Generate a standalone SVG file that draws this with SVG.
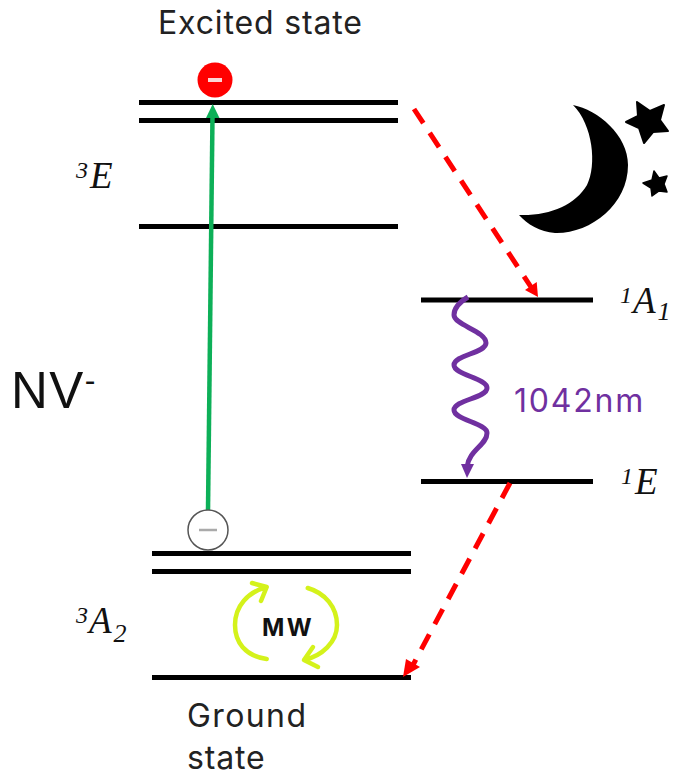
<svg xmlns="http://www.w3.org/2000/svg" width="674" height="777" viewBox="0 0 674 777">
<style>
.lvl{stroke:#000;stroke-width:5;fill:none}
.ui{font-family:"Inter","Noto Sans","Liberation Sans",sans-serif;font-size:32px;letter-spacing:.85px}
.sym{font-family:"Liberation Serif",serif;font-style:italic;font-size:37px;fill:#111}
.sup{font-size:24px}
.sub{font-size:26px}
.red{stroke:#ff0000;stroke-width:5;stroke-dasharray:17 11.600;fill:none}
.mw{stroke:#d4f21b;stroke-width:4.500;fill:none;stroke-linecap:round;stroke-linejoin:round}
</style>
<rect width="674" height="777" fill="#fff"/>
<g id="levels">
<path class="lvl" d="M139 102.500H398M139 120.500H398M139 226.500H398M421 300H593M421 481.500H593M152 553.500H411M152 571.500H411M152 677.500H411"/>
</g>
<g id="connectors">
<path d="M212.500 116L208 510" stroke="#0db058" stroke-width="4.500" fill="none"/>
<path d="M212.700 104L219.500 118H206Z" fill="#0db058"/>
<path class="red" d="M414 109L531 287"/>
<path d="M538 297L525 290L536.700 282Z" fill="#ff0000"/>
<path class="red" d="M510 483L413 665"/>
<path d="M403 677L406 659L420 667Z" fill="#ff0000"/>
<path d="M468 297C458 303 454 309 454 315C454 325 486 331 486 343C486 353 454 355 454 365C454 375 487 378 487 388C487 398 454 400 454 410C454 420 487 423 487 433C487 445 469 450 467 467" stroke="#7030a0" stroke-width="5" fill="none"/>
<path d="M467 478L461 464H474Z" fill="#7030a0"/>
<path class="mw" d="M266.700 659C245 656 235 642 235 625C235 606 248 592 266.700 587M252 583L266.700 587L261 601"/>
<path class="mw" d="M307.700 588C325 593 337 607 337 625C337 642 322 656 304 660M313 647L304 660L318 667"/>
</g>
<g id="excited-state"><text class="ui" x="158" y="34" fill="#222">Excited state</text></g>
<g id="electron-excited">
<circle cx="215" cy="80" r="17.500" fill="#ff0000"/>
<path d="M208 80H222" stroke="#fbd5d5" stroke-width="4"/>
</g>
<g id="electron-ground">
<circle cx="208" cy="530" r="20" fill="#fff" stroke="#555" stroke-width="1.500"/>
<path d="M199 530H217" stroke="#aaa" stroke-width="2.500"/>
</g>
<g id="moon">
<path d="M573 105C598 110 628 135 628 165C628 205 590 234 555 233C540 232 527 224 519 215C550 216 575 205 587 185C597 165 593 125 573 105Z" fill="#000"/>
<path d="M637 102L650 111L664 105L660 120L668 131L653 132L644 143L639 128L626 122L638 116Z" fill="#000" stroke="#000" stroke-width="2" stroke-linejoin="round"/>
<path d="M654 171L659 178L667 176L664 184L667 192L659 191L652 196L651 188L643 183L652 180Z" fill="#000" stroke="#000" stroke-width="1.500" stroke-linejoin="round"/>
</g>
<g id="label-3E"><text class="sym" x="76" y="188"><tspan class="sup" dy="-10">3</tspan><tspan dy="10" dx="2">E</tspan></text></g>
<g id="label-1A1"><text class="sym" x="620" y="313"><tspan class="sup" dy="-10">1</tspan><tspan dy="10" dx="1">A</tspan><tspan class="sub" dy="7" dx="2">1</tspan></text></g>
<g id="label-1E"><text class="sym" x="621" y="494"><tspan class="sup" dy="-10">1</tspan><tspan dy="10" dx="2">E</tspan></text></g>
<g id="label-3A2"><text class="sym" x="76" y="633"><tspan class="sup" dy="-10">3</tspan><tspan dy="10" dx="1">A</tspan><tspan class="sub" dy="9" dx="2">2</tspan></text></g>
<g id="label-nv"><text x="11" y="408" font-family="Liberation Sans, sans-serif" font-size="51" letter-spacing="1.500" fill="#111">NV<tspan font-size="32" dy="-17">-</tspan></text></g>
<g id="label-1042"><text class="ui" x="514" y="412" fill="#7030a0" style="letter-spacing:1.800px">1042nm</text></g>
<g id="label-mw"><text x="262" y="636" font-family="Inter, Liberation Sans, sans-serif" font-weight="700" font-size="24" letter-spacing="2.500" fill="#111">MW</text></g>
<g id="ground-state"><text class="ui" fill="#222"><tspan x="187" y="727" style="letter-spacing:1.400px">Ground</tspan><tspan x="187" y="769">state</tspan></text></g>
</svg>
